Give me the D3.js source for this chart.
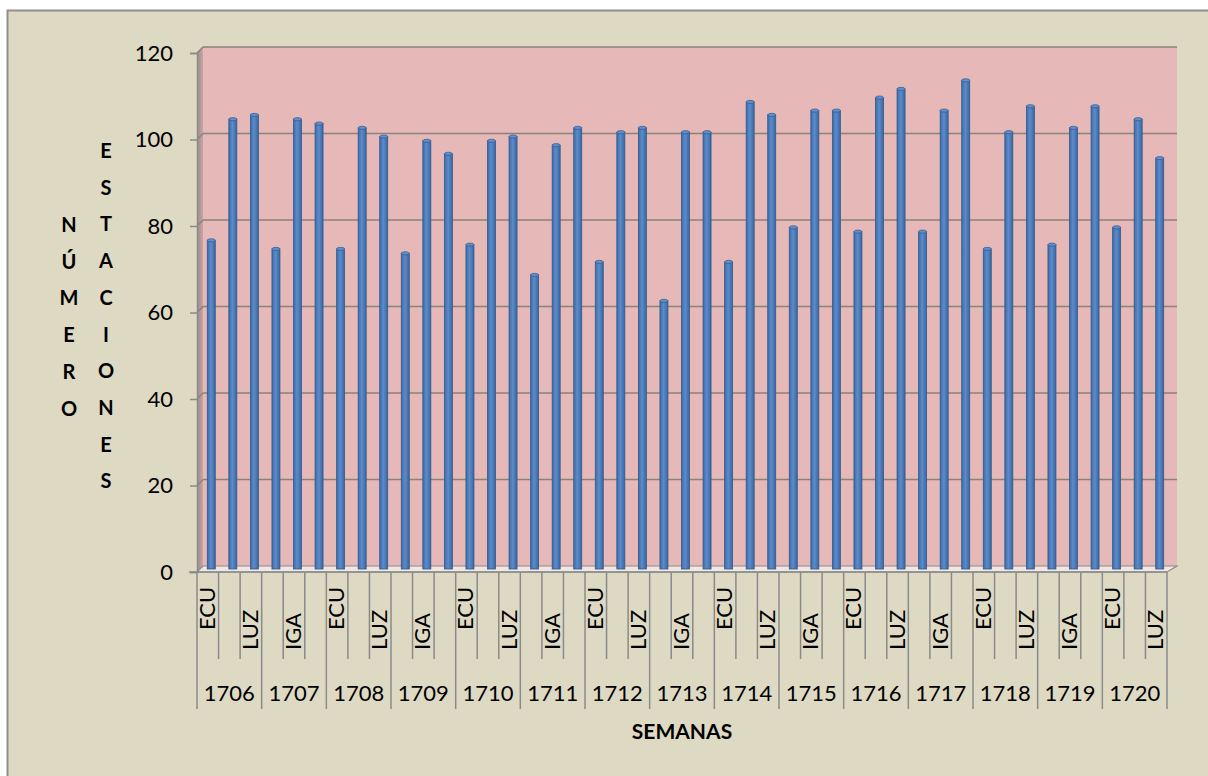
<!DOCTYPE html>
<html><head><meta charset="utf-8">
<script src="https://cdn.jsdelivr.net/npm/d3@7"></script>
<style>
html,body{margin:0;padding:0;background:#fff;}
svg{display:block;font-family:Lato,"Open Sans",sans-serif;}
</style></head>
<body>
<svg id="chart" width="1208" height="776"></svg>
<script>
const weeks = ["1706","1707","1708","1709","1710","1711","1712","1713","1714","1715","1716","1717","1718","1719","1720"];
const stations = ["ECU","IGA","LUZ"];
const ecuValues = [76,74,74,73,75,68,71,62,71,79,78,78,74,75,79];
const igaValues = [104,104,102,99,99,98,101,101,108,106,109,106,101,102,104];
const luzValues = [105,103,100,96,100,102,102,101,105,106,111,113,107,107,95];
const yTicks = [0,20,40,60,80,100,120];
const yTitle1 = "NÚMERO";
const yTitle2 = "ESTACIONES";
const xTitle = "SEMANAS";

const seriesByStation = {ECU: ecuValues, IGA: igaValues, LUZ: luzValues};
const data = [];
weeks.forEach((w, wi) => stations.forEach(s => data.push({week: w, station: s, value: seriesByStation[s][wi], key: w + "-" + s})));

const svg = d3.select("#chart");
const defs = svg.append("defs");

// frame
svg.append("rect").attr("x",7.5).attr("y",10.5).attr("width",1230).attr("height",800)
  .attr("fill","#DDD9C3").attr("stroke","#8f8f8f").attr("stroke-width",2);

const X0 = 197, X1 = 1167, Y0 = 572, Y1 = 53;
const DXL = 6, DXR = 10, DY = 6;

const x = d3.scaleBand().domain(data.map(d => d.key)).range([X0, X1]).padding(0);
const xWeek = d3.scaleBand().domain(weeks).range([X0, X1]).padding(0);
const y = d3.scaleLinear().domain([0,120]).range([Y0, Y1]);

// gradients
const gw = defs.append("linearGradient").attr("id","sidewall").attr("x1","0").attr("x2","1").attr("y1","0").attr("y2","0");
gw.append("stop").attr("offset","0").attr("stop-color","#9c8a88");
gw.append("stop").attr("offset","1").attr("stop-color","#c7a5a4");
const gb = defs.append("linearGradient").attr("id","bargrad").attr("x1","0").attr("x2","1").attr("y1","0").attr("y2","0");
gb.append("stop").attr("offset","0").attr("stop-color","#3d6aa6");
gb.append("stop").attr("offset","0.45").attr("stop-color","#5a8ccc");
gb.append("stop").attr("offset","1").attr("stop-color","#3a66a0");

// back wall
svg.append("rect").attr("x", X0 + DXL).attr("y", y(120) - DY)
  .attr("width", (X1 + DXR) - (X0 + DXL)).attr("height", y(0) - y(120))
  .attr("fill","#E6B9B8");
// side wall
svg.append("polygon")
  .attr("points", [[X0, y(120)],[X0+DXL, y(120)-DY],[X0+DXL, y(0)-DY],[X0, y(0)]].map(p=>p.join(",")).join(" "))
  .attr("fill","url(#sidewall)");
// floor
svg.append("polygon")
  .attr("points", [[X0, y(0)],[X0+DXL, y(0)-DY],[X1+DXR, y(0)-DY],[X1, y(0)]].map(p=>p.join(",")).join(" "))
  .attr("fill","#efe7e3").attr("stroke","#8f8a82").attr("stroke-width",1.2);

// gridlines
const grid = svg.append("g");
yTicks.filter(v => v > 0).forEach(v => {
  grid.append("line").attr("x1", X0 + DXL).attr("x2", X1 + DXR)
    .attr("y1", y(v) - DY).attr("y2", y(v) - DY)
    .attr("stroke","#8b8278").attr("stroke-width",1.6);
  grid.append("line").attr("x1", X0).attr("x2", X0 + DXL)
    .attr("y1", y(v)).attr("y2", y(v) - DY)
    .attr("stroke","#8b8278").attr("stroke-width",1.4);
});

// y axis
const yAxis = d3.axisLeft(y).tickValues(yTicks).tickSize(7).tickPadding(17);
const ya = svg.append("g").attr("transform", `translate(${X0},0)`).call(yAxis);
ya.select(".domain").attr("stroke","#8a8a8a").attr("stroke-width",1.5);
ya.selectAll(".tick line").attr("stroke","#8a8a8a").attr("stroke-width",1.5);
ya.selectAll(".tick text").attr("font-size",22).attr("fill","#000").attr("font-family","Lato");

// bars
const bw = 8;
const barOff = 3.5, barUp = 3;
const bars = svg.append("g");
bars.selectAll("rect").data(data).join("rect")
  .attr("x", d => x(d.key) + x.bandwidth()/2 + barOff - bw/2)
  .attr("y", d => y(d.value) - barUp)
  .attr("width", bw)
  .attr("height", d => y(0) - y(d.value))
  .attr("fill","url(#bargrad)")
  .attr("stroke","#34598a").attr("stroke-width",0.8);
bars.selectAll("ellipse").data(data).join("ellipse")
  .attr("cx", d => x(d.key) + x.bandwidth()/2 + barOff)
  .attr("cy", d => y(d.value) - barUp)
  .attr("rx", bw/2).attr("ry", 1.6)
  .attr("fill","#5f8fcc").attr("stroke","#34598a").attr("stroke-width",0.7);

// x axis baseline
svg.append("line").attr("x1", X0 - 8).attr("x2", X1).attr("y1", Y0).attr("y2", Y0)
  .attr("stroke","#8a8a8a").attr("stroke-width",1.5);

// category tick lines
const xAxisG = svg.append("g");
const boundaries = d3.range(data.length + 1);
xAxisG.selectAll("line").data(boundaries).join("line")
  .attr("x1", i => X0 + i * x.bandwidth()).attr("x2", i => X0 + i * x.bandwidth())
  .attr("y1", Y0).attr("y2", i => (i % 3 === 0) ? 709 : 659)
  .attr("stroke","#8a8a8a").attr("stroke-width",1.5);

// station labels (every second)
xAxisG.selectAll("text.st").data(data.filter((d,i) => i % 2 === 0)).join("text")
  .attr("class","st")
  .attr("transform", d => `translate(${x(d.key) + x.bandwidth()/2 + 7},${d.station === "ECU" ? 630 : 650}) rotate(-90)`)
  .attr("text-anchor","start")
  .attr("font-size",22).attr("fill","#000")
  .text(d => d.station);

// week labels
xAxisG.selectAll("text.wk").data(weeks).join("text")
  .attr("class","wk")
  .attr("x", w => xWeek(w) + xWeek.bandwidth()/2)
  .attr("y", 701)
  .attr("text-anchor","middle")
  .attr("font-size",22).attr("fill","#000")
  .text(w => w);

// x title
svg.append("text").attr("x", (X0 + X1)/2).attr("y", 739).attr("text-anchor","middle")
  .attr("font-size",21).attr("font-weight","bold").attr("fill","#000").text(xTitle);

// y title: stacked letters
const lineH = 36.7;
svg.append("g").selectAll("text").data(Array.from(yTitle1)).join("text")
  .attr("x", 69).attr("y", (c,i) => 232 + i * lineH)
  .attr("text-anchor","middle").attr("font-size",20).attr("font-weight","bold").attr("fill","#000")
  .text(c => c);
svg.append("g").selectAll("text").data(Array.from(yTitle2)).join("text")
  .attr("x", 106).attr("y", (c,i) => 158 + i * lineH)
  .attr("text-anchor","middle").attr("font-size",20).attr("font-weight","bold").attr("fill","#000")
  .text(c => c);
</script>
</body></html>
